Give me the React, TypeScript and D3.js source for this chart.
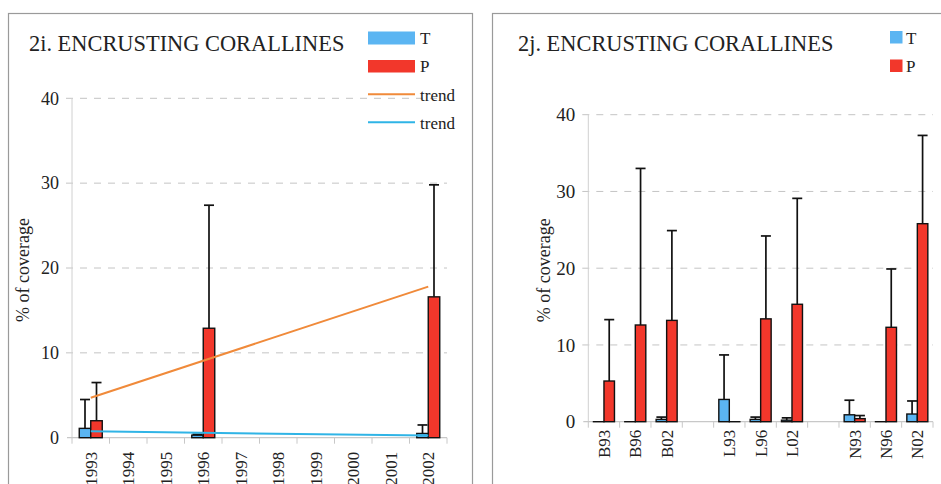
import React from 'react';
import * as d3 from 'd3';

// ---- data: chart 2i (by year) ----
const years = ['1993', '1994', '1995', '1996', '1997', '1998', '1999', '2000', '2001', '2002'];
const yearT: (number | null)[] = [1.1, null, null, 0.3, null, null, null, null, null, 0.5];
const yearTsd: (number | null)[] = [3.4, null, null, 0.1, null, null, null, null, null, 1.0];
const yearP: (number | null)[] = [2.0, null, null, 12.9, null, null, null, null, null, 16.6];
const yearPsd: (number | null)[] = [4.5, null, null, 14.5, null, null, null, null, null, 13.2];
const trendP = [4.7, 17.8]; // 1993 -> 2002
const trendT = [0.75, 0.25];

// ---- data: chart 2j (by site) ----
const sites = ['B93', 'B96', 'B02', '', 'L93', 'L96', 'L02', ' ', 'N93', 'N96', 'N02'];
const siteT: (number | null)[] = [0, 0, 0.3, null, 2.9, 0.3, 0.2, null, 0.9, 0, 1.0];
const siteTsd: (number | null)[] = [0, 0, 0.3, null, 5.8, 0.3, 0.3, null, 1.9, 0, 1.7];
const siteP: (number | null)[] = [5.3, 12.6, 13.2, null, 0, 13.4, 15.3, null, 0.4, 12.3, 25.8];
const sitePsd: (number | null)[] = [8.0, 20.4, 11.7, null, 0, 10.8, 13.8, null, 0.4, 7.6, 11.5];

const yTicks = [0, 10, 20, 30, 40];

const BLUE = '#5BB5F2';
const RED = '#F2372B';
const ORANGE = '#F08A3A';
const CYAN = '#2FB4E6';
const FONT = '"Liberation Serif", "DejaVu Serif", serif';

interface PanelProps {
  title: string;
  cats: string[];
  t: (number | null)[];
  tsd: (number | null)[];
  p: (number | null)[];
  psd: (number | null)[];
  x0: number;
  x1: number;
  yTop: number;
  yBottom: number;
  barW: number;
  capW: number;
  tickFont: number;
  labelGap: number;
  titleX: number;
  yLabelX: number;
}

function Panel(props: PanelProps) {
  const { cats, t, tsd, p, psd, x0, x1, yTop, yBottom, barW, capW } = props;
  const x = d3.scaleBand<string>().domain(cats).range([x0, x1]).padding(0);
  const y = d3.scaleLinear().domain([0, 40]).range([yBottom, yTop]);
  const bw = x.bandwidth();
  const edges = d3.range(cats.length + 1).map(i => x0 + i * bw);

  const bars: JSX.Element[] = [];
  const errs: JSX.Element[] = [];
  cats.forEach((c, i) => {
    const cx = (x(c) || 0) + bw / 2;
    const series = [
      { v: t[i], sd: tsd[i], bx: cx - barW, fill: BLUE },
      { v: p[i], sd: psd[i], bx: cx, fill: RED },
    ];
    series.forEach((s, j) => {
      if (s.v === null) return;
      const top = y(s.v);
      bars.push(
        <rect key={`b${i}-${j}`} x={s.bx} y={top} width={barW} height={Math.max(yBottom - top, 0.01)}
          fill={s.fill} stroke="#111" strokeWidth={1.4} />
      );
      if (s.sd) {
        const mid = s.bx + barW / 2;
        const up = y(s.v + s.sd);
        errs.push(
          <g key={`e${i}-${j}`} stroke="#111" strokeWidth={1.7}>
            <line x1={mid} x2={mid} y1={top} y2={up} />
            <line x1={mid - capW / 2} x2={mid + capW / 2} y1={up} y2={up} />
          </g>
        );
      }
    });
  });

  return (
    <g fontFamily={FONT} fill="#222">
      {yTicks.map(v => (
        <g key={v}>
          {v > 0 && (
            <line x1={x0 - 6} x2={x1} y1={y(v)} y2={y(v)} stroke="#c4c4c4" strokeDasharray="7,7" />
          )}
          <text x={x0 - 13} y={y(v)} dy="0.35em" textAnchor="end" fontSize={props.tickFont}>{v}</text>
        </g>
      ))}
      <line x1={x0} x2={x0} y1={yTop} y2={yBottom} stroke="#d0d0d0" />
      <line x1={x0 - 5} x2={x1} y1={yBottom} y2={yBottom} stroke="#c8c8c8" strokeWidth={1.3} />
      {edges.map((ex, i) => (
        <line key={i} x1={ex} x2={ex} y1={yBottom} y2={yBottom + 6} stroke="#c8c8c8" />
      ))}
      {bars}
      {errs}
      {cats.map(c => c.trim() && (
        <text key={c} transform={`translate(${(x(c) || 0) + bw / 2},${yBottom + props.labelGap}) rotate(-90)`}
          dy="0.35em" textAnchor="end" fontSize={17}>{c}</text>
      ))}
      <text transform={`translate(${props.yLabelX},${(yTop + yBottom) / 2 + 2}) rotate(-90)`}
        textAnchor="middle" fontSize={18}>% of coverage</text>
      <text x={props.titleX} y={51} fontSize={22.4}>{props.title}</text>
    </g>
  );
}

export default function App() {
  // trend lines for 2i, drawn between band centres of the first and last year
  const xYears = d3.scaleBand<string>().domain(years).range([72, 447]);
  const yLeft = d3.scaleLinear().domain([0, 40]).range([437.7, 98.3]);
  const tx0 = (xYears(years[0]) || 0) + xYears.bandwidth() / 2;
  const tx1 = (xYears(years[years.length - 1]) || 0) + xYears.bandwidth() / 2;
  const trendLine = d3.line<number>().x((_, i) => (i === 0 ? tx0 : tx1)).y(d => yLeft(d));

  return (
    <svg width={941} height={484} style={{ position: 'absolute', left: 0, top: 0, background: '#fff' }}>
      {/* panel frames */}
      <rect x={8.5} y={13.5} width={464} height={480} fill="#fff" stroke="#9a9a9a" strokeWidth={1.2} />
      <rect x={492.5} y={13.5} width={460} height={480} fill="#fff" stroke="#9a9a9a" strokeWidth={1.2} />

      <Panel title="2i. ENCRUSTING CORALLINES" cats={years} t={yearT} tsd={yearTsd} p={yearP} psd={yearPsd}
        x0={72} x1={447} yTop={98.3} yBottom={437.7} barW={11.5} capW={10} tickFont={18}
        labelGap={14} titleX={29} yLabelX={29} />
      <path d={trendLine(trendP) || ''} stroke={ORANGE} strokeWidth={2} fill="none" />
      <path d={trendLine(trendT) || ''} stroke={CYAN} strokeWidth={2} fill="none" />

      <Panel title="2j. ENCRUSTING CORALLINES" cats={sites} t={siteT} tsd={siteTsd} p={siteP} psd={sitePsd}
        x0={588.3} x1={933} yTop={114.7} yBottom={421.7} barW={10.5} capW={10} tickFont={19}
        labelGap={8} titleX={518} yLabelX={550} />

      {/* legend 2i */}
      <g fontFamily={FONT} fontSize={17} fill="#222">
        <rect x={368} y={31.5} width={47} height={13} fill={BLUE} />
        <text x={420} y={44}>T</text>
        <rect x={368} y={60} width={47} height={12.5} fill={RED} />
        <text x={420} y={72}>P</text>
        <line x1={368} x2={415} y1={94.3} y2={94.3} stroke={ORANGE} strokeWidth={2} />
        <text x={420} y={101}>trend</text>
        <line x1={368} x2={415} y1={122.3} y2={122.3} stroke={CYAN} strokeWidth={2} />
        <text x={420} y={129}>trend</text>
      </g>
      {/* legend 2j */}
      <g fontFamily={FONT} fontSize={17} fill="#222">
        <rect x={890} y={31} width={12.5} height={12.5} fill={BLUE} />
        <text x={906} y={44}>T</text>
        <rect x={890} y={59.5} width={12.5} height={12.5} fill={RED} />
        <text x={906} y={72}>P</text>
      </g>
    </svg>
  );
}
